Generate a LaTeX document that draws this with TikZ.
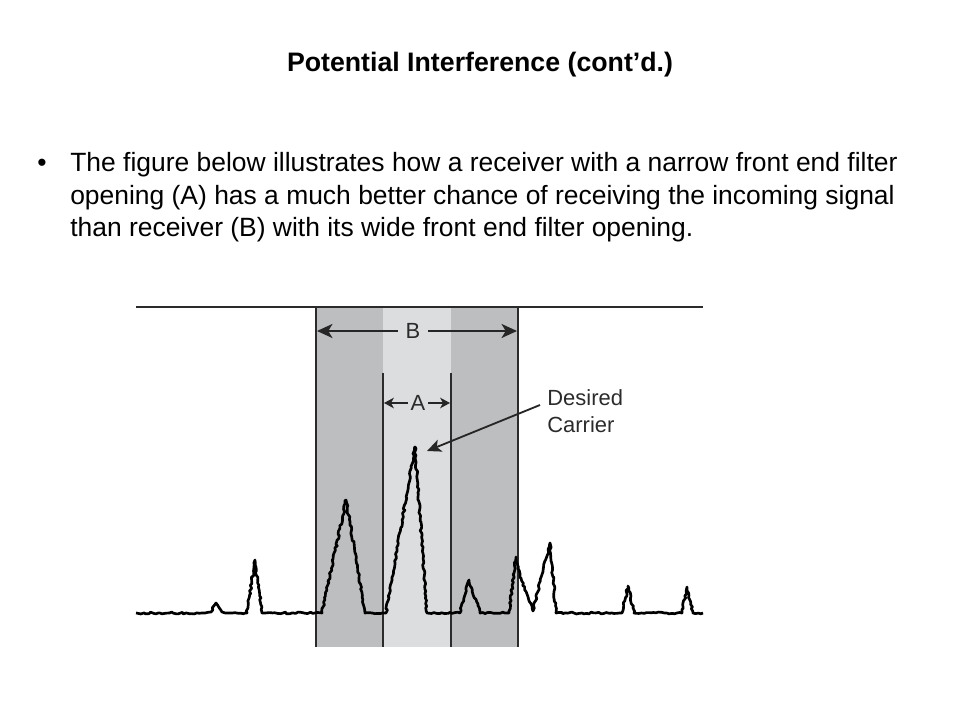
\documentclass[tikz,border=0pt]{standalone}
\usepackage{fontspec}
\setmainfont{Liberation Sans}
\usetikzlibrary{arrows.meta, decorations.pathmorphing, positioning}
\definecolor{banddark}{HTML}{BDBEC0}
\definecolor{bandlight}{HTML}{DCDDDF}
\definecolor{figink}{HTML}{2B2B2B}

\begin{document}
\begin{tikzpicture}[
        x=0.025cm, y=-0.025cm,
        headline/.style = {font=\fontsize{19}{23}\selectfont\bfseries, anchor=base, inner sep=0pt},
        body/.style = {font=\fontsize{18.8}{22}\selectfont, anchor=base west, inner sep=0pt},
        figlabel/.style = {font=\fontsize{15.6}{19.2}\selectfont, text=figink, inner sep=1.5pt},
        bandedge/.style = {draw=figink, line width=1.4pt},
        dimarrow/.style = {draw=black!85, line width=1.3pt, -{Stealth[length=11pt, width=10pt, inset=3pt]}},
        smallarrow/.style = {draw=black!85, line width=1.2pt, -{Stealth[length=7pt, width=7.5pt, inset=2pt]}},
        pointer/.style = {draw=black!85, line width=1.3pt, -{Stealth[length=10pt, width=9pt, inset=2.5pt]}},
        trace/.style = {draw=black, line width=1.9pt, line join=round, decorate,
            decoration={random steps, segment length=1.8pt, amplitude=0.7pt}}
    ]
        \useasboundingbox (0,0) rectangle (960,720);

        % Heading and bullet text
        \node (title) [headline] at (480,71.5) {Potential Interference (cont’d.)};
        \node (bullet) [body] at (37,172) {•};
        \node (line1) [body] at (70,172) {The figure below illustrates how a receiver with a narrow front end filter};
        \node (line2) [body] at (70,204.5) {opening (A) has a much better chance of receiving the incoming signal};
        \node (line3) [body] at (70,237) {than receiver (B) with its wide front end filter opening.};

        % Filter openings
        \fill [banddark] (316,307) rectangle (518,647);
        \fill [bandlight] (383,307) rectangle (451,647);
        \draw [bandedge] (136,307) -- (703,307);
        \draw [bandedge] (316,307) -- (316,647);
        \draw [bandedge] (518,307) -- (518,647);
        \draw [bandedge] (383,373) -- (383,647);
        \draw [bandedge] (451,373) -- (451,647);

        % Spectrum
        \pgfmathsetseed{17}
        \draw [trace] (136,613) -- (205,613) -- (211,612) -- (216,603) -- (222,612) -- (228,613)
            -- (247,613) -- (255,560) -- (262,613)
            -- (322,613) -- (346,500) -- (365,613)
            -- (386,613) -- (415,447) -- (427,613)
            -- (460,613) -- (469,580) -- (480,613)
            -- (509,613) -- (516,557) -- (521,578) -- (533,611) -- (550,543) -- (556,613)
            -- (622,613) -- (628,586) -- (634,613)
            -- (682,613) -- (687,587) -- (693,613) -- (703,613);

        % Width labels
        \node (labB) [figlabel, inner xsep=5.5pt] at (413,331) {B};
        \coordinate (Bleft) at (317,331);
        \coordinate (Bright) at (517,331);
        \draw [dimarrow] (labB) -- (Bleft);
        \draw [dimarrow] (labB) -- (Bright);

        \node (labA) [figlabel, inner xsep=2pt] at (418,403) {A};
        \coordinate (Aleft) at (384,403);
        \coordinate (Aright) at (450,403);
        \draw [smallarrow] (labA) -- (Aleft);
        \draw [smallarrow] (labA) -- (Aright);

        % Carrier callout
        \node (carrier) [figlabel, align=left, anchor=west] at (545,411) {Desired\\Carrier};
        \coordinate (peak) at (427,451);
        \draw [pointer] ([shift={(-5,-6)}]carrier.west) -- (peak);

\end{tikzpicture}
\end{document}
